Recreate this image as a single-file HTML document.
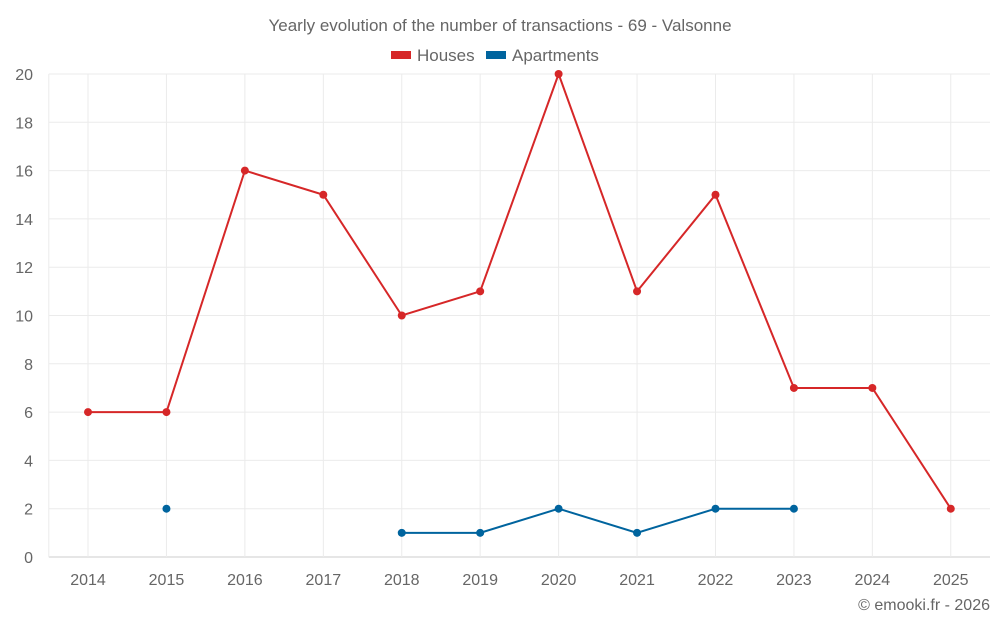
<!DOCTYPE html>
<html><head><meta charset="utf-8"><style>
body{margin:0;background:#fff;font-family:"Liberation Sans",sans-serif;}
svg text{font-family:"Liberation Sans",sans-serif;fill:#666;}
</style></head><body>
<svg id="chart" width="1000" height="625">
<text x="500" y="31" text-anchor="middle" font-size="17">Yearly evolution of the number of transactions - 69 - Valsonne</text>
<g>
<g><rect x="391" y="51" width="20" height="8" fill="#d62728"/><text x="417" y="61" font-size="17">Houses</text></g>
<g><rect x="486" y="51" width="20" height="8" fill="#00649e"/><text x="512" y="61" font-size="17">Apartments</text></g>
</g>
<g id="grid"></g><g id="axes"></g><g id="series"></g>
<text x="990" y="610" text-anchor="end" font-size="16">© emooki.fr - 2026</text>
</svg>
<script>
const years=[2014,2015,2016,2017,2018,2019,2020,2021,2022,2023,2024,2025];
const houses=[6,6,16,15,10,11,20,11,15,7,7,2];
const apartments=[null,2,null,null,1,1,2,1,2,2,null,null];
const yTicks=[0,2,4,6,8,10,12,14,16,18,20];
const NS="http://www.w3.org/2000/svg";
const L=48.8,R=990,T=74,B=557,yMax=20;
const bw=(R-L)/years.length;
const x=i=>L+bw*(i+0.5);
const y=v=>B-(B-T)*v/yMax;
function mk(t,a,p){const e=document.createElementNS(NS,t);for(const k in a)e.setAttribute(k,a[k]);p.appendChild(e);return e;}
const grid=document.getElementById('grid'),axes=document.getElementById('axes'),ser=document.getElementById('series');
yTicks.forEach(v=>{
const l=mk('line',{x1:L,x2:R,y1:y(v),y2:y(v),stroke:v===0?'#ccc':'#ebebeb'},grid);


const t=mk('text',{x:33,y:y(v)+6,'text-anchor':'end','font-size':16},axes);t.textContent=v;


});
years.forEach((yr,i)=>{
const l=mk('line',{x1:x(i),x2:x(i),y1:T,y2:B,stroke:'#ebebeb'},grid);


const t=mk('text',{x:x(i),y:585,'text-anchor':'middle','font-size':16},axes);t.textContent=yr;


});
const lv=mk('line',{x1:L,x2:L,y1:T,y2:B,stroke:'#ebebeb'},grid);


function draw(data,color,name){
const g=mk('g',{},ser);


let seg=[];
const flush=()=>{if(seg.length>1){const p=mk('polyline',{points:seg.join(' '),fill:'none',stroke:color,'stroke-width':2},g);

}seg=[];};
data.forEach((v,i)=>{if(v===null){flush();return;}seg.push(x(i)+','+y(v));});flush();
data.forEach((v,i)=>{if(v===null)return;const c=mk('circle',{cx:x(i),cy:y(v),r:4,fill:color},g);

});
}
draw(houses,'#d62728','houses');
draw(apartments,'#00649e','apartments');
</script>
</body></html>
